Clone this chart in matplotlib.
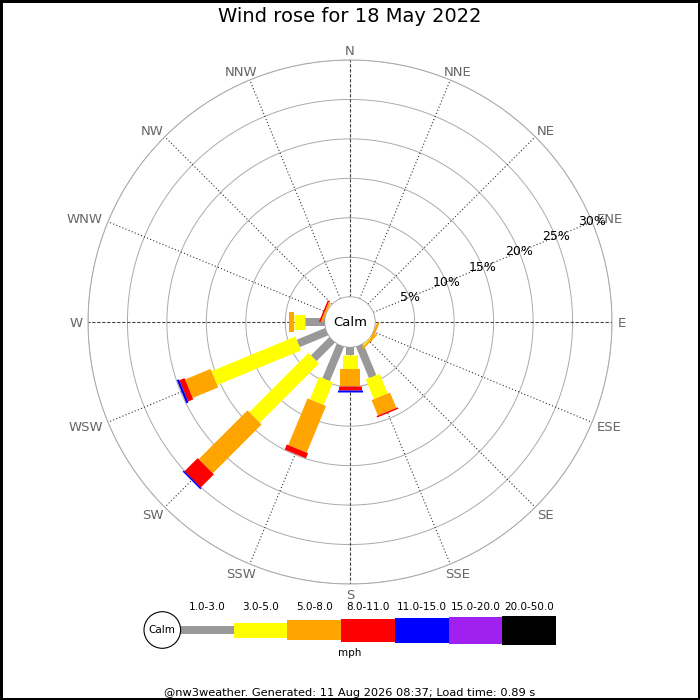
import numpy as np
import matplotlib
matplotlib.use("Agg")
import matplotlib.pyplot as plt
from matplotlib.patches import Circle

# compass points, clockwise from north
directions = ["N", "NNE", "NE", "ENE", "E", "ESE", "SE", "SSE",
              "S", "SSW", "SW", "WSW", "W", "WNW", "NW", "NNW"]
speed_bins = ["1.0-3.0", "3.0-5.0", "5.0-8.0", "8.0-11.0",
              "11.0-15.0", "15.0-20.0", "20.0-50.0"]

# % of time in each direction, one list per speed bin (mph)
pct_1_3 = [0, 0, 0, 0, 0, 0, 0, 4.3, 0.96, 4.7, 3.3, 3.9, 2.5, 0, 0, 0]
pct_3_5 = [0, 0, 0, 0, 0, 0, 0.15, 2.7, 1.77, 3.1, 10.6, 11.5, 1.45, 0, 0, 0]
pct_5_8 = [0, 0, 0, 0, 0, 0.3, 0.25, 2.1, 2.23, 6.4, 8.75, 3.5, 0.55, 0.25, 0, 0]
pct_8_11 = [0, 0, 0, 0, 0, 0, 0, 0.2, 0.5, 0.7, 2.35, 0.7, 0, 0.2, 0, 0]
pct_11_15 = [0, 0, 0, 0, 0, 0, 0, 0, 0.21, 0, 0.2, 0.3, 0, 0, 0, 0]
pct_15_20 = [0] * 16
pct_20_50 = [0] * 16

ring_ticks = [5, 10, 15, 20, 25, 30]

title = "Wind rose for 18 May 2022"
footer = "@nw3weather. Generated: 11 Aug 2026 08:37; Load time: 0.89 s"

# styling
colors = ["#999999", "#ffff00", "#ffa500", "#ff0000", "#0000ff", "#a020f0", "#000000"]
bar_px = [8, 15, 20, 23, 25, 27, 29]   # bar thickness in pixels
DPI = 100
px2pt = 72.0 / DPI

fig = plt.figure(figsize=(7, 7), dpi=DPI)
fig.patch.set_edgecolor("black")
fig.patch.set_linewidth(2.5)

ax = fig.add_axes([0.1257, 0.1657, 0.7486, 0.7486], projection="polar")
ax.set_theta_zero_location("N")
ax.set_theta_direction(-1)
ax.set_ylim(0, 30)
ax.set_rorigin(-3.2)
ax.set_xticks([])
ax.set_yticks([])
ax.grid(False)
for name, sp in ax.spines.items():
    sp.set_color("#aaaaaa")
    sp.set_linewidth(0.7)

thetas = np.deg2rad(np.arange(16) * 22.5)

# rings
tt = np.linspace(0, 2 * np.pi, 400)
for r in ring_ticks:
    ax.plot(tt, np.full_like(tt, r), color="#aaaaaa", lw=0.7, zorder=1)

# spokes
for i, th in enumerate(thetas):
    if i % 4 == 0:
        ax.plot([th, th], [0, 30], color="#444444", lw=0.8,
                dashes=(3, 1.5), zorder=1)
    else:
        ax.plot([th, th], [0, 30], color="#333333", lw=0.8,
                dashes=(1, 2), zorder=1)

# percent labels along ENE
th_lab = np.deg2rad(67.5)
for r in ring_ticks:
    ax.text(th_lab, r, f"{r}%", ha="center", va="center", fontsize=9,
            color="black", zorder=5)

# direction labels, pushed outward by half their width
renderer = fig.canvas.get_renderer()
for d, th in zip(directions, thetas):
    s, c = np.sin(th), np.cos(th)
    t = ax.annotate(d, xy=(th, 30), xytext=(0, 0), textcoords="offset points",
                    ha="center", va="center", fontsize=9.5, color="#666666",
                    annotation_clip=False)
    w = t.get_window_extent(renderer).width
    ox = (5 + 1.1 * w / 2) * s
    oy = 10 * c - 1.5
    t.set_position((ox * px2pt, oy * px2pt))

# stacked bars drawn as thick radial lines
all_bins = [pct_1_3, pct_3_5, pct_5_8, pct_8_11, pct_11_15, pct_15_20, pct_20_50]
table = np.array(all_bins)
cum = np.vstack([np.zeros(16), np.cumsum(table, axis=0)])
for k in range(len(all_bins)):
    for i, th in enumerate(thetas):
        r0, r1 = cum[k, i], cum[k + 1, i]
        if r1 - r0 <= 0:
            continue
        ax.plot([th, th], [r0, r1], color=colors[k], lw=bar_px[k] * px2pt,
                solid_capstyle="butt", zorder=3)

ax.text(0, -3.2, "Calm", ha="center", va="center", fontsize=9.5, zorder=6)

fig.text(0.5, 1 - 17 / 700, title, ha="center", va="center", fontsize=14)

# legend strip
lx0, lx1 = 180, 556
lax = fig.add_axes([lx0 / 700, (700 - 630 - 20) / 700, (lx1 - lx0) / 700, 40 / 700])
lax.set_xlim(0, len(speed_bins))
lax.set_ylim(-20, 20)
lax.axis("off")
for k, lab in enumerate(speed_bins):
    h = bar_px[k]
    lax.bar(k, h, bottom=-h / 2, width=1, align="edge", color=colors[k],
            linewidth=0)
    lax.text(k + 0.5, 23.5, lab, ha="center", va="center", fontsize=7.5,
             clip_on=False)

fig.patches.append(Circle((162.3 / 700, 1 - 630 / 700), 18.3 / 700,
                          transform=fig.transFigure, facecolor="white",
                          edgecolor="black", lw=0.8))
fig.text(162.3 / 700, 1 - 630 / 700, "Calm", ha="center", va="center", fontsize=7.5)
fig.text(0.5, 1 - 653 / 700, "mph", ha="center", va="center", fontsize=7.5)
fig.text(0.5, 1 - 692.5 / 700, footer, ha="center", va="center", fontsize=8.2)

fig.savefig("out.png", dpi=DPI, edgecolor=fig.get_edgecolor())
